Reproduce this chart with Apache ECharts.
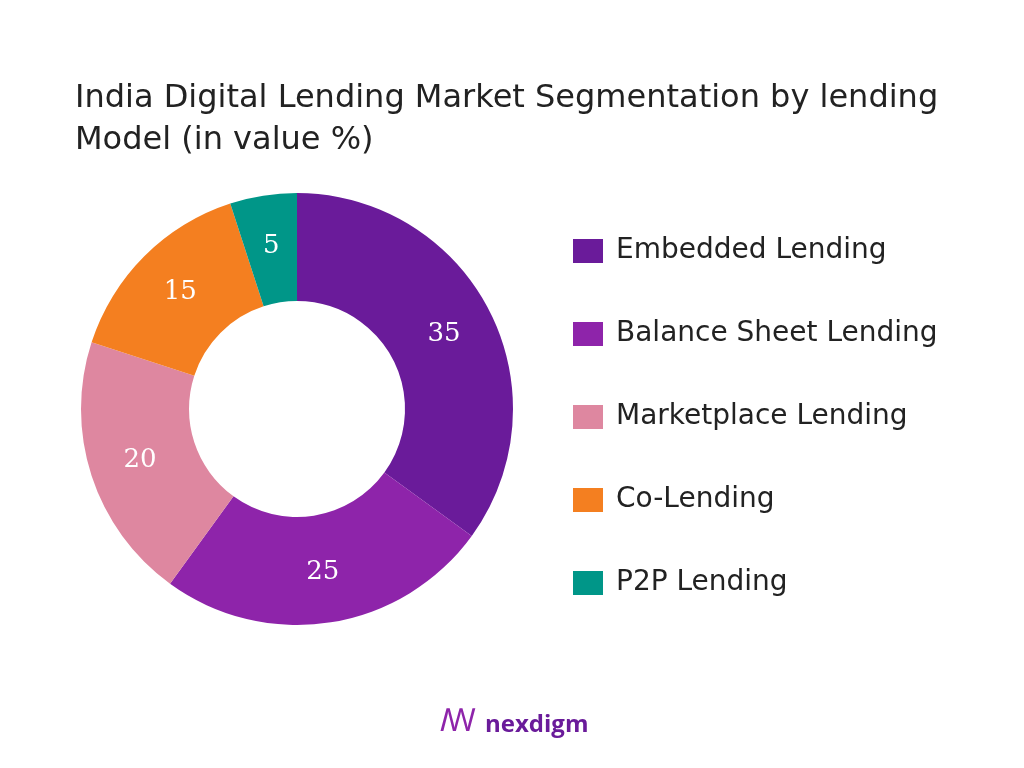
<!DOCTYPE html>
<html><head><meta charset="utf-8">
<script src="https://cdn.jsdelivr.net/npm/echarts@6/dist/echarts.min.js"></script>
<style>html,body{margin:0;padding:0;background:#fff}#c{width:1024px;height:768px}</style>
</head><body><div id="c"></div>
<script>
const categories = ["Embedded Lending","Balance Sheet Lending","Marketplace Lending","Co-Lending","P2P Lending"];
const values = [35,25,20,15,5];
const colors = ["#6A1B9A","#8E24AA","#DE87A0","#F47F20","#009688"];
const chart = echarts.init(document.getElementById('c'));
chart.setOption({
  animation:false,
  title:{text:"India Digital Lending Market Segmentation by lending\nModel (in value %)",left:70,top:73,
    textStyle:{fontFamily:"DejaVu Sans",fontWeight:"normal",fontSize:32,color:"#222",lineHeight:42}},
  legend:{orient:'vertical',left:568,top:232,itemWidth:30,itemHeight:24,itemGap:55,icon:'rect',
    textStyle:{fontFamily:"DejaVu Sans",fontSize:28,color:"#222",padding:[0,0,0,8]},data:categories},
  color:colors,
  series:[{type:'pie',center:[297,409],radius:[108,216],startAngle:90,
    label:{position:'inside',formatter:'{c}',color:'#fff',fontFamily:'DejaVu Serif',fontSize:26},
    labelLine:{show:false},
    data:categories.map((n,i)=>({name:n,value:values[i]}))}],
  graphic:[{type:'text',left:485,top:713,style:{text:'nexdigm',fontFamily:'Open Sans',fontWeight:'bold',fontSize:24,fill:'#6A1B9A'}},
    {type:'text',left:440,top:706,style:{text:'ꟿ',fontSize:32,fill:'#8E24AA'}}]
});
</script></body></html>
